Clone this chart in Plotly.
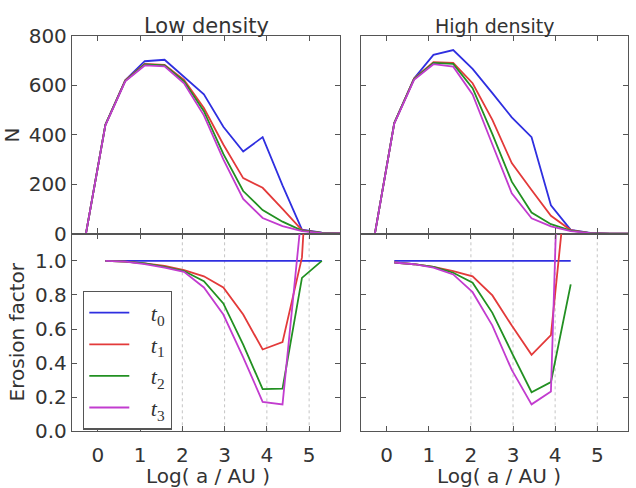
import plotly.graph_objects as go
from plotly.subplots import make_subplots

nan = None

# log(a/AU) sample positions
log_a = [-0.28, 0.18, 0.65, 1.11, 1.58, 2.04, 2.51, 2.97, 3.44, 3.90, 4.37, 4.83, 5.30, 5.76]

series_names = ["&nbsp;&nbsp;&nbsp;<i>t</i><sub>0</sub>", "&nbsp;&nbsp;&nbsp;<i>t</i><sub>1</sub>",
                "&nbsp;&nbsp;&nbsp;<i>t</i><sub>2</sub>", "&nbsp;&nbsp;&nbsp;<i>t</i><sub>3</sub>"]
series_colors = ["#2f2fe0", "#e33a3a", "#229022", "#c23ccf"]

# Low density: N
N_low_t0 = [0, 440, 620, 697, 703, 635, 563, 432, 332, 390, 195, 16, 4, 0]
N_low_t1 = [0, 440, 620, 686, 682, 622, 508, 360, 224, 185, 100, 14, 3, 0]
N_low_t2 = [0, 440, 618, 684, 680, 616, 495, 322, 172, 95, 48, 12, 3, 0]
N_low_t3 = [0, 438, 616, 680, 676, 608, 478, 300, 140, 63, 30, 10, 2, 0]

# High density: N
N_high_t0 = [0, 447, 627, 723, 742, 666, 568, 470, 390, 114, 15, 3, 0, 0]
N_high_t1 = [0, 447, 627, 693, 690, 608, 460, 285, 176, 72, 14, 2, 0, 0]
N_high_t2 = [0, 447, 625, 690, 686, 588, 402, 210, 85, 38, 12, 2, 0, 0]
N_high_t3 = [0, 445, 622, 685, 675, 563, 360, 163, 62, 29, 10, 2, 0, 0]

# Low density: erosion factor
E_low_t0 = [nan, 1.0, 1.0, 1.0, 1.0, 1.0, 1.0, 1.0, 1.0, 1.0, 1.0, 1.0, 1.0, nan]
E_low_t1 = [nan, 1.0, 0.995, 0.985, 0.97, 0.946, 0.909, 0.844, 0.685, 0.48, 0.523, 1.02, 3.0, nan]
E_low_t2 = [nan, 1.0, 0.995, 0.985, 0.965, 0.94, 0.881, 0.75, 0.508, 0.248, 0.25, 0.9, 1.0, nan]
E_low_t3 = [nan, 1.0, 0.995, 0.98, 0.96, 0.935, 0.844, 0.685, 0.434, 0.173, 0.158, 1.3, nan, nan]

# High density: erosion factor
E_high_t0 = [nan, 1.0, 1.0, 1.0, 1.0, 1.0, 1.0, 1.0, 1.0, 1.0, 1.0, nan, nan, nan]
E_high_t1 = [nan, 0.99, 0.98, 0.965, 0.94, 0.909, 0.797, 0.62, 0.449, 0.564, 1.7, nan, nan, nan]
E_high_t2 = [nan, 0.99, 0.98, 0.965, 0.93, 0.872, 0.695, 0.462, 0.229, 0.289, 0.862, nan, nan, nan]
E_high_t3 = [nan, 0.99, 0.98, 0.96, 0.92, 0.816, 0.62, 0.36, 0.158, 0.233, 4.0, nan, nan, nan]

panel_titles = ["Low density", "High density"]
x_label = "Log( a / AU )"
y_label_top = "N"
y_label_bottom = "Erosion factor"
x_ticks = [0, 1, 2, 3, 4, 5]
n_ticks = [0, 200, 400, 600, 800]
e_ticks = [0.0, 0.2, 0.4, 0.6, 0.8, 1.0]
grid_x = [2, 3, 4, 5]

W, H = 636, 488
fig = make_subplots(rows=2, cols=2)

panels = [
    (1, 1, [N_low_t0, N_low_t1, N_low_t2, N_low_t3], False),
    (1, 2, [N_high_t0, N_high_t1, N_high_t2, N_high_t3], False),
    (2, 1, [E_low_t0, E_low_t1, E_low_t2, E_low_t3], True),
    (2, 2, [E_high_t0, E_high_t1, E_high_t2, E_high_t3], False),
]
for r, c, ys, leg in panels:
    for name, col, y in zip(series_names, series_colors, ys):
        fig.add_trace(go.Scatter(x=log_a, y=y, mode="lines", name=name,
                                 line=dict(color=col, width=1.8),
                                 showlegend=leg, connectgaps=False),
                      row=r, col=c)

def px_x(p):
    return p / W

def px_y(p):
    return 1 - p / H

xl = [px_x(72), px_x(340)]
xr = [px_x(361), px_x(628)]
yt = [px_y(233), px_y(25)]
yb = [px_y(441), px_y(233)]

axcol = "#555555"
txtcol = "#333333"
common = dict(showline=True, linecolor=axcol, linewidth=1.3, mirror="ticks",
              ticks="inside", ticklen=5, tickcolor=axcol, tickwidth=1,
              showgrid=False, zeroline=False,
              tickfont=dict(family="DejaVu Sans", size=20, color=txtcol))

xr_range = [-0.61, 5.73]
fig.update_layout(
    xaxis=dict(domain=xl, range=xr_range, tickvals=x_ticks, showticklabels=False, **common),
    xaxis2=dict(domain=xr, range=xr_range, tickvals=x_ticks, showticklabels=False, **common),
    xaxis3=dict(domain=xl, range=xr_range, tickvals=x_ticks, ticklabelstandoff=6, **common),
    xaxis4=dict(domain=xr, range=xr_range, tickvals=x_ticks, ticklabelstandoff=6, **common),
    yaxis=dict(domain=yt, range=[0, 800], tickvals=n_ticks, **common),
    yaxis2=dict(domain=yt, range=[0, 800], tickvals=n_ticks, showticklabels=False, **common),
    yaxis3=dict(domain=yb, range=[0, 1.16], tickvals=e_ticks, tickformat=".1f", **common),
    yaxis4=dict(domain=yb, range=[0, 1.16], tickvals=e_ticks, showticklabels=False, **common),
)

for xa, ya in [("x3", "y3"), ("x4", "y4")]:
    for gx in grid_x:
        fig.add_shape(type="line", xref=xa, yref=ya + " domain", x0=gx, x1=gx, y0=0, y1=1,
                      line=dict(color="#c4c4c4", width=1, dash="dot"), layer="below")

ann_font = dict(family="DejaVu Sans", color=txtcol)
annotations = [
    dict(text=panel_titles[0], x=px_x(206), y=px_y(15), font=dict(size=21, **ann_font)),
    dict(text=panel_titles[1], x=px_x(494), y=px_y(15), font=dict(size=19, **ann_font)),
    dict(text=y_label_top, x=px_x(12), y=px_y(130), textangle=-90, font=dict(size=20, **ann_font)),
    dict(text=y_label_bottom, x=px_x(17), y=px_y(337), textangle=-90, font=dict(size=20, **ann_font)),
    dict(text=x_label, x=px_x(208), y=px_y(488), font=dict(size=20, **ann_font)),
    dict(text=x_label, x=px_x(499), y=px_y(488), font=dict(size=20, **ann_font)),
]
for a in annotations:
    a.update(xref="paper", yref="paper", showarrow=False, xanchor="center", yanchor="middle")

fig.update_layout(
    width=W, height=H,
    margin=dict(l=0, r=0, t=0, b=0),
    paper_bgcolor="white", plot_bgcolor="white",
    annotations=annotations,
    legend=dict(x=px_x(83), y=px_y(293), xanchor="left", yanchor="top",
                bgcolor="white", bordercolor=axcol, borderwidth=1.3,
                font=dict(family="Liberation Serif", size=22, color=txtcol),
                itemwidth=40, tracegroupgap=0),
)

fig.write_html("out.html")
